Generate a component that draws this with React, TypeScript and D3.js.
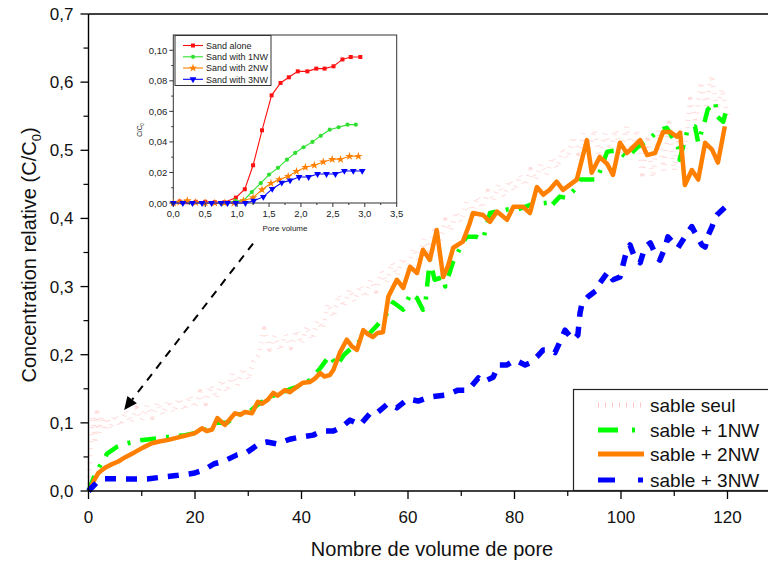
import React from "react";
import * as d3 from "d3";

// ---------- Main chart data (pore volume, C/C0) ----------
const xTicksMain = [0, 20, 40, 60, 80, 100, 120];
const yTicksMain = [0, 0.1, 0.2, 0.3, 0.4, 0.5, 0.6, 0.7];

const sableSeul: [number, number][] = [
  [0, 0], [0.4, 0.07], [0.8, 0.11], [1.2, 0.07], [1.6, 0.115], [2, 0.085], [2.5, 0.11], [3, 0.088], [3.5, 0.108], [4, 0.09],
  [5, 0.112], [6, 0.095], [7, 0.118], [8, 0.1], [9, 0.122], [10, 0.104], [11, 0.126], [12, 0.108], [13, 0.13], [14, 0.112],
  [15, 0.133], [16, 0.115], [17, 0.136], [18, 0.118], [19, 0.14], [20, 0.122], [21, 0.146], [22, 0.128], [23, 0.155], [24, 0.136],
  [25, 0.163], [26, 0.145], [27, 0.172], [28, 0.155], [29, 0.18], [30, 0.163], [31, 0.19], [32, 0.2], [33, 0.238], [34, 0.208],
  [35, 0.228], [36, 0.206], [37, 0.23], [38, 0.21], [39, 0.236], [40, 0.216], [41, 0.242], [42, 0.222], [43, 0.25], [44, 0.238],
  [45, 0.275], [46, 0.255], [47, 0.288], [48, 0.27], [49, 0.296], [50, 0.278], [51, 0.302], [52, 0.284], [53, 0.31], [54, 0.293],
  [55, 0.322], [56, 0.305], [57, 0.335], [58, 0.316], [59, 0.342], [60, 0.325], [61, 0.356], [62, 0.34], [63, 0.37], [64, 0.352],
  [65, 0.382], [66, 0.366], [67, 0.398], [68, 0.382], [69, 0.41], [70, 0.395], [71, 0.424], [72, 0.406], [73, 0.432], [74, 0.415],
  [75, 0.44], [76, 0.425], [77, 0.45], [78, 0.432], [79, 0.456], [80, 0.44], [81, 0.464], [82, 0.448], [83, 0.472], [84, 0.456],
  [85, 0.48], [86, 0.464], [87, 0.49], [88, 0.474], [89, 0.5], [90, 0.488], [91, 0.52], [92, 0.495], [93, 0.525], [94, 0.5],
  [95, 0.53], [96, 0.49], [97, 0.525], [98, 0.5], [99, 0.53], [100, 0.495], [101, 0.535], [102, 0.5], [103, 0.53], [104, 0.465],
  [105, 0.515], [106, 0.46], [107, 0.53], [108, 0.47], [109, 0.54], [110, 0.47], [111, 0.53], [112, 0.5], [113, 0.575], [114, 0.54],
  [115, 0.6], [116, 0.565], [117, 0.61], [118, 0.56], [119, 0.59], [120, 0.55],
];

const sable1NW: [number, number][] = [
  [0, 0], [1, 0.02], [2.2, 0.038], [3.5, 0.055], [5.4, 0.065], [7.3, 0.07], [9.3, 0.074], [11.5, 0.076], [13.4, 0.078],
  [15.7, 0.08], [18.1, 0.082], [20, 0.085], [22, 0.09], [24, 0.1], [26, 0.1], [28, 0.112], [30, 0.115], [32, 0.128], [34, 0.138],
  [36, 0.143], [38, 0.15], [40, 0.155], [42, 0.165], [43.5, 0.18], [45.3, 0.199], [46.6, 0.184], [48, 0.2], [50.4, 0.217],
  [52, 0.225], [54.2, 0.243], [56, 0.26], [57.2, 0.277], [59.1, 0.266], [60.5, 0.29], [61.7, 0.283], [62.8, 0.266], [63.2, 0.27],
  [64.1, 0.34], [65, 0.31], [66.6, 0.314], [67, 0.3], [68.4, 0.335], [70, 0.36], [71, 0.373], [72.9, 0.373], [74.1, 0.369],
  [75.4, 0.408], [78.6, 0.413], [80.5, 0.413], [83, 0.42], [86.1, 0.423], [86.6, 0.416], [88.5, 0.432], [89.8, 0.43],
  [91.7, 0.446], [92.3, 0.457], [94.2, 0.457], [95.5, 0.457], [97.4, 0.498], [99.3, 0.5], [101.1, 0.489], [103, 0.504],
  [104.5, 0.512], [107.3, 0.53], [108.6, 0.533], [110.7, 0.505], [111, 0.486], [112.4, 0.527], [113, 0.533], [113.9, 0.535],
  [114.5, 0.511], [115.8, 0.545], [116.3, 0.56], [117.7, 0.571], [118, 0.55], [119.2, 0.542], [119.9, 0.562],
];

const sable2NW: [number, number][] = [
  [0, 0], [0.5, 0.005], [1, 0.015], [1.8, 0.026], [3.1, 0.034], [4.3, 0.039], [5.5, 0.043], [7, 0.05], [8.7, 0.057],
  [10.3, 0.064], [11.9, 0.07], [13.5, 0.073], [15, 0.075], [16.5, 0.078], [18.1, 0.081], [20, 0.085], [21.3, 0.092],
  [22.2, 0.088], [23.2, 0.09], [24.2, 0.107], [25.6, 0.097], [26.5, 0.105], [27.5, 0.114], [28.5, 0.112], [29.4, 0.116],
  [30.7, 0.114], [31.8, 0.131], [32.6, 0.128], [33.7, 0.134], [34.7, 0.144], [35.5, 0.14], [36.9, 0.148], [37.8, 0.145],
  [39, 0.152], [40.3, 0.159], [41.6, 0.16], [42.5, 0.165], [43.5, 0.173], [44.3, 0.168], [45.3, 0.17], [46, 0.178],
  [47.2, 0.203], [48.5, 0.222], [49.5, 0.212], [50.4, 0.207], [51.6, 0.236], [52.5, 0.23], [53.4, 0.226], [54.3, 0.232],
  [55.3, 0.233], [56.3, 0.285], [57.9, 0.31], [59.1, 0.298], [60.4, 0.329], [61.7, 0.32], [62.8, 0.354], [64.1, 0.339],
  [65.4, 0.383], [66.6, 0.314], [67.5, 0.33], [68.5, 0.357], [70.3, 0.366], [71.6, 0.393], [72.2, 0.408], [74.1, 0.405],
  [75.4, 0.395], [76.7, 0.41], [78.6, 0.398], [79.8, 0.417], [81.6, 0.417], [82.9, 0.408], [84.2, 0.446], [85.4, 0.435],
  [86.6, 0.442], [87.9, 0.454], [89.1, 0.442], [90.5, 0.45], [91.7, 0.457], [93.6, 0.515], [94.5, 0.467], [96, 0.49],
  [97.4, 0.48], [98.5, 0.464], [99.8, 0.511], [101.1, 0.496], [102.3, 0.505], [103.6, 0.515], [104.9, 0.493],
  [106.4, 0.496], [107.9, 0.527], [109.2, 0.527], [110.5, 0.52], [111.1, 0.526], [112, 0.449], [113.3, 0.471],
  [114.5, 0.457], [115.8, 0.511], [117.1, 0.501], [118.2, 0.482], [119.5, 0.535],
];

const sable3NW: [number, number][] = [
  [0, 0], [1.6, 0.013], [3, 0.018], [7.8, 0.0176], [11, 0.0176], [14.4, 0.021], [16.8, 0.023], [19.7, 0.026], [21.7, 0.031],
  [23.6, 0.04], [25.2, 0.043], [27.9, 0.053], [29.8, 0.057], [32.2, 0.07], [33.5, 0.072], [35.4, 0.069], [37.8, 0.076],
  [39.7, 0.079], [42.2, 0.082], [43.9, 0.088], [46, 0.088], [47.6, 0.094], [49.1, 0.104], [51, 0.097], [53.2, 0.117],
  [54.4, 0.116], [56.2, 0.128], [57.9, 0.122], [60, 0.135], [61.9, 0.132], [64.1, 0.138], [67.3, 0.141], [69.4, 0.148],
  [71.3, 0.148], [73.2, 0.166], [74.1, 0.16], [76, 0.167], [77, 0.185], [78.6, 0.185], [80.1, 0.192], [82, 0.185],
  [82.9, 0.188], [84.2, 0.197], [85.4, 0.207], [86.6, 0.207], [87.6, 0.203], [88.9, 0.225], [89.5, 0.236], [91, 0.222],
  [91.9, 0.229], [92.3, 0.261], [92.7, 0.276], [93.8, 0.285], [94.8, 0.291], [95.5, 0.295], [96, 0.305], [97.6, 0.322],
  [98.5, 0.31], [99.8, 0.314], [101.1, 0.354], [101.7, 0.361], [102.6, 0.342], [103.6, 0.335], [104.5, 0.358],
  [105.5, 0.364], [106.8, 0.342], [107.3, 0.339], [108.3, 0.358], [108.8, 0.373], [110.2, 0.361], [110.7, 0.357],
  [112, 0.373], [112.6, 0.38], [113.3, 0.388], [113.9, 0.379], [115.2, 0.361], [115.8, 0.358], [116.4, 0.376],
  [117.1, 0.388], [117.7, 0.402], [118, 0.405], [119.5, 0.416],
];

const legendMain = ["sable seul", "sable + 1NW", "sable + 2NW", "sable + 3NW"];

// arrow (data coords): from start to tip
const arrowStart: [number, number] = [30.9, 0.363];
const arrowTip: [number, number] = [6.7, 0.119];

// ---------- Inset data (pore volume, C/C0) ----------
const xTicksInset = [0, 0.5, 1, 1.5, 2, 2.5, 3, 3.5];
const yTicksInset = [0, 0.02, 0.04, 0.06, 0.08, 0.1];
const insetLegend = ["Sand alone", "Sand with 1NW", "Sand with 2NW", "Sand with 3NW"];

const sandAlone: [number, number][] = [
  [0, 0], [0.1, 0.001], [0.2, 0.0005], [0.35, 0.0008], [0.5, 0.0008], [0.65, 0.0005], [0.8, 0.0005], [0.98, 0.0035],
  [1.12, 0.009], [1.25, 0.0247], [1.39, 0.0476], [1.54, 0.0705], [1.68, 0.0786], [1.81, 0.0823], [1.95, 0.0862],
  [2.1, 0.0862], [2.24, 0.088], [2.37, 0.088], [2.51, 0.0895], [2.65, 0.094], [2.78, 0.0956], [2.93, 0.0956],
];
const sandWith1NW: [number, number][] = [
  [0, 0], [0.15, 0.0003], [0.3, 0], [0.45, 0], [0.6, 0], [0.75, 0], [0.85, 0], [0.97, 0.0015], [1.1, 0.0015],
  [1.23, 0.0072], [1.37, 0.013], [1.5, 0.0186], [1.64, 0.023], [1.78, 0.0284], [1.91, 0.0328], [2.04, 0.0365],
  [2.18, 0.04], [2.31, 0.044], [2.45, 0.048], [2.59, 0.0496], [2.73, 0.0513], [2.86, 0.0513],
];
const sandWith2NW: [number, number][] = [
  [0, 0], [0.1, 0.0005], [0.22, 0.0015], [0.35, 0.0003], [0.5, 0], [0.65, 0], [0.8, 0], [0.95, 0], [1.1, 0.0015],
  [1.25, 0.0035], [1.39, 0.0087], [1.53, 0.0129], [1.66, 0.0153], [1.8, 0.0175], [1.93, 0.0207], [2.07, 0.0234],
  [2.21, 0.0247], [2.35, 0.0269], [2.49, 0.0286], [2.62, 0.0286], [2.76, 0.0306], [2.9, 0.0306],
];
const sandWith3NW: [number, number][] = [
  [0, 0], [0.15, 0], [0.3, 0], [0.45, 0], [0.6, 0], [0.75, 0], [0.85, 0], [0.98, 0], [1.13, 0], [1.26, 0.0015],
  [1.41, 0.004], [1.55, 0.0092], [1.7, 0.0133], [1.83, 0.0148], [1.97, 0.017], [2.12, 0.017], [2.26, 0.019],
  [2.4, 0.019], [2.54, 0.019], [2.68, 0.021], [2.82, 0.021], [2.96, 0.021],
];

const FONT = "'Liberation Sans', Arial, sans-serif";
const comma = (v: number, d: number) => v.toFixed(d).replace(".", ",");

export default function App() {
  // main scales
  const x = d3.scaleLinear().domain([0, 130]).range([88.5, 88.5 + 130 * 5.325]);
  const y = d3.scaleLinear().domain([0, 0.7]).range([491, 14]);
  const line = d3.line<[number, number]>().x((d) => x(d[0])).y((d) => y(d[1]));

  // inset scales
  const xi = d3.scaleLinear().domain([0, 3.5]).range([173.3, 396.7]);
  const yi = d3.scaleLinear().domain([0, 0.11]).range([203, 35]);
  const lineI = d3.line<[number, number]>().x((d) => xi(d[0])).y((d) => yi(d[1]));

  const x0 = x(0);
  const y0 = y(0);

  const xMinor = d3.range(10, 130, 20);
  const yMinor = d3.range(0.05, 0.7, 0.1);
  const xiMinor = d3.range(0.25, 3.5, 0.5);
  const yiMinor = d3.range(0.01, 0.11, 0.02);

  const mainStyles = [
    { color: "#ffc4c4", width: 5, dash: "1,6", lDash: "1,6", lWidth: 5, op: 0.6 },
    { color: "#00ff00", width: 4.5, dash: "16,10,3,10", lDash: "20,14,3,20", lWidth: 5, op: 1 },
    { color: "#ff7f00", width: 4.5, dash: "none", lDash: "none", lWidth: 5, op: 1 },
    { color: "#0000ff", width: 5.5, dash: "11,10", lDash: "17,23,5", lWidth: 5, op: 1 },
  ];
  const mainSeries = [sableSeul, sable1NW, sable2NW, sable3NW];
  const legendY = [405, 430, 454, 480];

  const insetSeries = [sandAlone, sandWith1NW, sandWith2NW, sandWith3NW];
  const insetColors = ["#ff1010", "#30e030", "#ff8000", "#0000ff"];
  const symTypes = [d3.symbolSquare, d3.symbolCircle, d3.symbolStar, d3.symbolTriangle];
  const symSizes = [16, 14, 22, 20];
  const symPath = (i: number) => d3.symbol(symTypes[i], symSizes[i])() || "";
  const insetLegendY = [45.5, 56.8, 68, 79.3];

  // arrow geometry
  const ax1 = x(arrowStart[0]), ay1 = y(arrowStart[1]);
  const ax2 = x(arrowTip[0]), ay2 = y(arrowTip[1]);
  const ang = Math.atan2(ay2 - ay1, ax2 - ax1);
  const headLen = 13, headW = 6;
  const bx = ax2 - headLen * Math.cos(ang), by = ay2 - headLen * Math.sin(ang);
  const head = `M${ax2},${ay2} L${bx + headW * Math.sin(ang)},${by - headW * Math.cos(ang)} L${bx - headW * Math.sin(ang)},${by + headW * Math.cos(ang)} Z`;

  return (
    <svg width={768} height={562} style={{ position: "fixed", left: 0, top: 0, background: "#fff" }} fontFamily={FONT}>
      <rect x={0} y={0} width={768} height={562} fill="#fff" />

      {/* series */}
      {mainSeries.map((s, i) => (
        <path
          key={i}
          d={line(s) || ""}
          fill="none"
          stroke={mainStyles[i].color}
          strokeWidth={mainStyles[i].width}
          strokeDasharray={mainStyles[i].dash}
          strokeLinejoin="round"
          opacity={mainStyles[i].op}
        />
      ))}

      {/* axes frame */}
      <line x1={x0} y1={y(0.7)} x2={x0} y2={y0} stroke="#000" strokeWidth={1.4} />
      <line x1={x0} y1={y0} x2={768} y2={y0} stroke="#000" strokeWidth={1.4} />
      <line x1={x0} y1={y(0.7)} x2={768} y2={y(0.7)} stroke="#000" strokeWidth={1.4} />

      {xTicksMain.map((t) => (
        <g key={"xt" + t}>
          <line x1={x(t)} x2={x(t)} y1={y0} y2={y0 + 8} stroke="#000" strokeWidth={1.3} />
          <text x={x(t)} y={y0 + 32} fontSize={17} textAnchor="middle" fill="#111">{t}</text>
        </g>
      ))}
      {xMinor.map((t) => (
        <line key={"xm" + t} x1={x(t)} x2={x(t)} y1={y0} y2={y0 + 5} stroke="#000" strokeWidth={1.2} />
      ))}
      {yTicksMain.map((t) => (
        <g key={"yt" + t}>
          <line x1={x0 - 8} x2={x0} y1={y(t)} y2={y(t)} stroke="#000" strokeWidth={1.3} />
          <text x={x0 - 15} y={y(t) + 6} fontSize={17} textAnchor="end" fill="#111">{comma(t, 1)}</text>
        </g>
      ))}
      {yMinor.map((t) => (
        <line key={"ym" + t} x1={x0 - 5} x2={x0} y1={y(t)} y2={y(t)} stroke="#000" strokeWidth={1.2} />
      ))}

      {/* axis titles */}
      <text x={432} y={556} fontSize={20} textAnchor="middle" fill="#111">Nombre de volume de pore</text>
      <text transform="translate(36,255) rotate(-90)" fontSize={20} textAnchor="middle" fill="#111">
        Concentration relative (C/C<tspan fontSize={13} dy={5}>0</tspan><tspan dy={-5}>)</tspan>
      </text>

      {/* main legend */}
      <rect x={573.5} y={389.5} width={220} height={101} fill="#fff" stroke="#222" strokeWidth={1.2} />
      {legendMain.map((name, i) => (
        <g key={name}>
          <line
            x1={598} x2={644} y1={legendY[i]} y2={legendY[i]}
            stroke={mainStyles[i].color}
            strokeWidth={mainStyles[i].lWidth}
            strokeDasharray={mainStyles[i].lDash}
          />
          <text x={650} y={legendY[i] + 7} fontSize={19} fill="#111">{name}</text>
        </g>
      ))}

      {/* arrow */}
      <line x1={ax1} y1={ay1} x2={bx} y2={by} stroke="#000" strokeWidth={2} strokeDasharray="8,7" />
      <path d={head} fill="#000" />

      {/* inset */}
      <rect x={xi(0)} y={yi(0.11)} width={xi(3.5) - xi(0)} height={yi(0) - yi(0.11)} fill="#fff" stroke="#333" strokeWidth={1} />
      {insetSeries.map((s, i) => (
        <g key={"is" + i}>
          <path d={lineI(s) || ""} fill="none" stroke={insetColors[i]} strokeWidth={1.1} />
          {s.map((p, j) => (
            <path
              key={j}
              d={symPath(i)}
              transform={`translate(${xi(p[0])},${yi(p[1])})${i === 3 ? " rotate(180)" : ""}`}
              fill={insetColors[i]}
            />
          ))}
        </g>
      ))}
      {xTicksInset.map((t) => (
        <g key={"xit" + t}>
          <line x1={xi(t)} x2={xi(t)} y1={yi(0)} y2={yi(0) + 4} stroke="#333" />
          <text x={xi(t)} y={yi(0) + 14} fontSize={9.5} textAnchor="middle" fill="#222">{comma(t, 1)}</text>
        </g>
      ))}
      {xiMinor.map((t) => (
        <line key={"xim" + t} x1={xi(t)} x2={xi(t)} y1={yi(0)} y2={yi(0) + 2} stroke="#333" />
      ))}
      {yTicksInset.map((t) => (
        <g key={"yit" + t}>
          <line x1={xi(0) - 4} x2={xi(0)} y1={yi(t)} y2={yi(t)} stroke="#333" />
          <text x={xi(0) - 6} y={yi(t) + 3.5} fontSize={9.5} textAnchor="end" fill="#222">{comma(t, 2)}</text>
        </g>
      ))}
      {yiMinor.map((t) => (
        <line key={"yim" + t} x1={xi(0) - 2} x2={xi(0)} y1={yi(t)} y2={yi(t)} stroke="#333" />
      ))}
      <text x={285} y={231} fontSize={8} textAnchor="middle" fill="#222">Pore volume</text>
      <text transform="translate(142,130) rotate(-90)" fontSize={6.5} textAnchor="middle" fill="#222">
        C/C<tspan fontSize={4.5} dy={1.5}>0</tspan>
      </text>

      {/* inset legend */}
      <rect x={175} y={35.5} width={96} height={50} fill="#fff" stroke="#333" strokeWidth={1} />
      {insetLegend.map((name, i) => (
        <g key={name}>
          <line x1={183} x2={203} y1={insetLegendY[i]} y2={insetLegendY[i]} stroke={insetColors[i]} strokeWidth={1.1} />
          <path d={symPath(i)} transform={`translate(193,${insetLegendY[i]})${i === 3 ? " rotate(180)" : ""}`} fill={insetColors[i]} />
          <text x={206} y={insetLegendY[i] + 3.2} fontSize={9} fill="#222">{name}</text>
        </g>
      ))}
    </svg>
  );
}
